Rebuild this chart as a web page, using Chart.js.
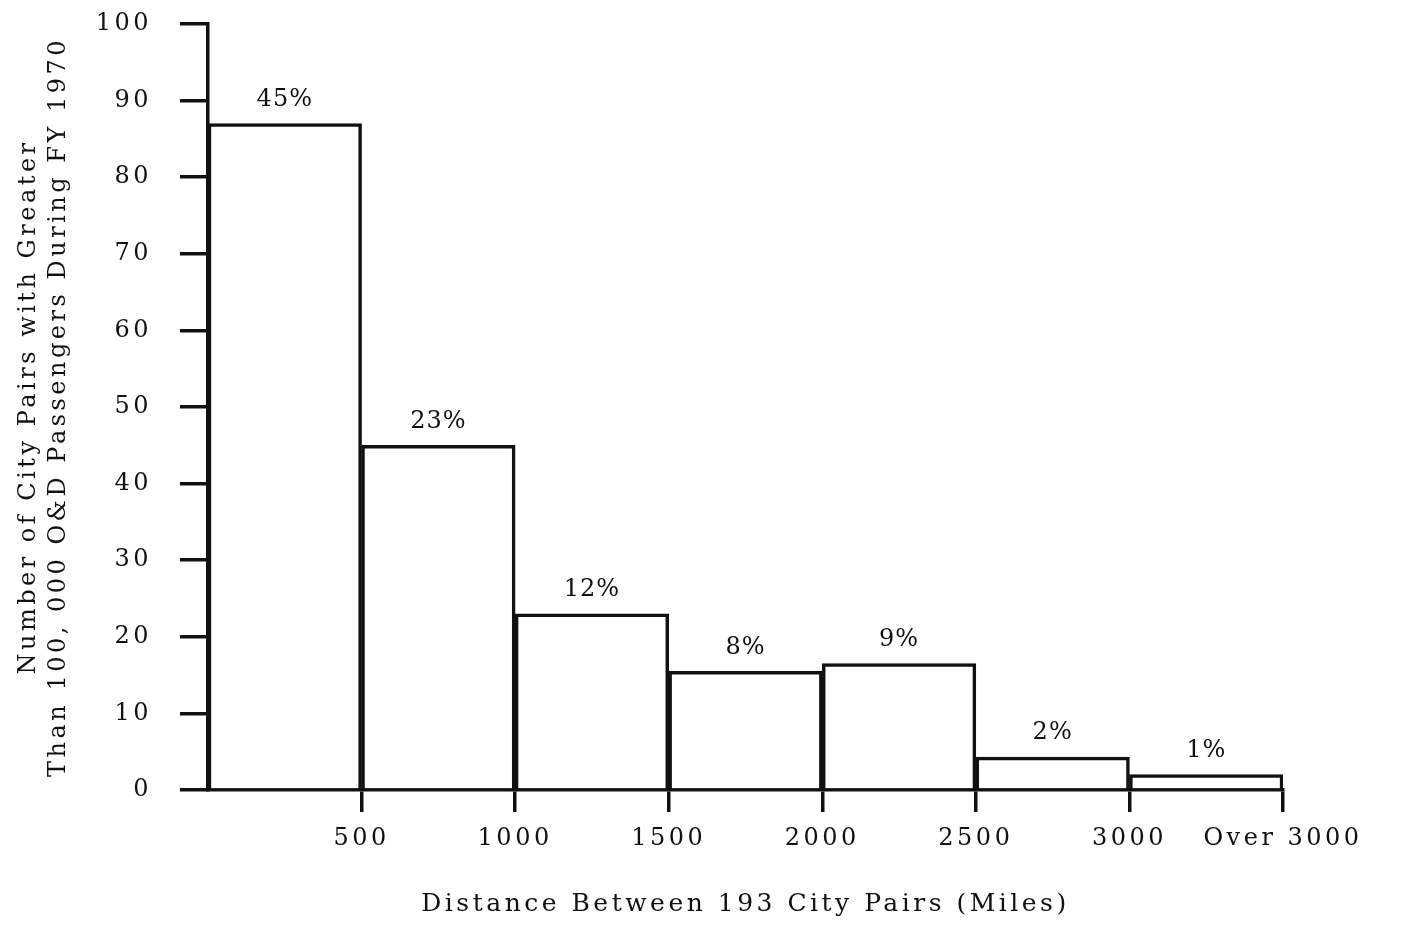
<!DOCTYPE html>
<html>
<head>
<meta charset="utf-8">
<script src="https://cdn.jsdelivr.net/npm/chart.js@4/dist/chart.umd.min.js"></script>
<style>
  html, body { margin: 0; padding: 0; background: #fff; }
  #wrap { width: 1423px; height: 925px; }
</style>
</head>
<body>
<div id="wrap"><canvas id="histChart"></canvas></div>
<script>
// bins of 500 miles, bar centred in each bin
const binCenters = [250, 750, 1250, 1750, 2250, 2750, 3250];
const cityPairs = [87, 45, 23, 15.5, 16.5, 4.3, 2];
const pctLabels = ['45%', '23%', '12%', '8%', '9%', '2%', '1%'];
const xTicks = [0, 500, 1000, 1500, 2000, 2500, 3000, 3500];
const xTickText = ['', '500', '1000', '1500', '2000', '2500', '3000', 'Over 3000'];
const yTicks = [0, 10, 20, 30, 40, 50, 60, 70, 80, 90, 100];

const FONT = "'DejaVu Serif', serif";

// spacing like the old typewriter lettering
const spacingPlugin = {
    id: 'spacing',
    beforeLayout(chart) { chart.ctx.letterSpacing = '3.5px'; },
    beforeDraw(chart) { chart.ctx.letterSpacing = '3.5px'; }
};

// percent text above each bar
const pctPlugin = {
    id: 'pctLabels',
    afterDatasetsDraw(chart) {
        const ctx = chart.ctx;
        const meta = chart.getDatasetMeta(0);
        ctx.save();
        ctx.letterSpacing = '1px';
        ctx.fillStyle = '#111';
        ctx.font = '24px ' + FONT;
        ctx.textAlign = 'center';
        ctx.textBaseline = 'bottom';
        meta.data.forEach((bar, i) => {
            ctx.fillText(pctLabels[i], bar.x, bar.y - 12);
        });
        ctx.restore();
    }
};

const ctx = document.getElementById('histChart').getContext('2d');
const histChart = new Chart(ctx, {
    type: 'bar',
    data: {
        datasets: [{
            data: binCenters.map((x, i) => ({ x: x, y: cityPairs[i] })),
            backgroundColor: '#fff',
            borderColor: '#111',
            borderWidth: 3.5,
            barPercentage: 1,
            categoryPercentage: 1
        }]
    },
    options: {
        responsive: true,
        maintainAspectRatio: false,
        animation: false,
        layout: { padding: { top: 24, right: 140, left: 0, bottom: 0 } },
        plugins: {
            legend: { display: false },
            tooltip: { enabled: false }
        },
        scales: {
            x: {
                type: 'linear',
                min: 0,
                max: 3500,
                offset: false,
                afterFit(scale) { scale.height = 135; },
                afterBuildTicks(scale) { scale.ticks = xTicks.map(v => ({ value: v })); },
                border: { color: '#111', width: 3.5 },
                grid: {
                    offset: false,
                    drawOnChartArea: false,
                    tickLength: 22,
                    lineWidth: 3.5,
                    color: c => (c.tick && c.tick.value === 0) ? 'rgba(0,0,0,0)' : '#111'
                },
                ticks: {
                    color: '#111',
                    font: { family: FONT, size: 24 },
                    padding: 12,
                    maxRotation: 0,
                    autoSkip: false,
                    callback: (v) => xTickText[xTicks.indexOf(v)]
                },
                title: {
                    display: true,
                    text: 'Distance Between 193 City Pairs (Miles)',
                    color: '#111',
                    font: { family: FONT, size: 25 },
                    padding: { top: 0, bottom: 6 }
                }
            },
            y: {
                min: 0,
                max: 100,
                afterFit(scale) {
                    scale.width = 208;
                    scale.paddingTop = 16;
                },
                afterBuildTicks(scale) { scale.ticks = yTicks.map(v => ({ value: v })); },
                border: { color: '#111', width: 3.5 },
                grid: {
                    drawOnChartArea: false,
                    tickLength: 28,
                    lineWidth: 3.5,
                    color: '#111'
                },
                ticks: {
                    color: '#111',
                    font: { family: FONT, size: 24 },
                    padding: 28
                },
                title: {
                    display: true,
                    text: ['Number of City Pairs with Greater', 'Than 100, 000 O&D Passengers During FY 1970'],
                    color: '#111',
                    font: { family: FONT, size: 24, lineHeight: 1.25 },
                    padding: { top: 14, bottom: 0 }
                }
            }
        }
    },
    plugins: [spacingPlugin, pctPlugin]
});
</script>
</body>
</html>
